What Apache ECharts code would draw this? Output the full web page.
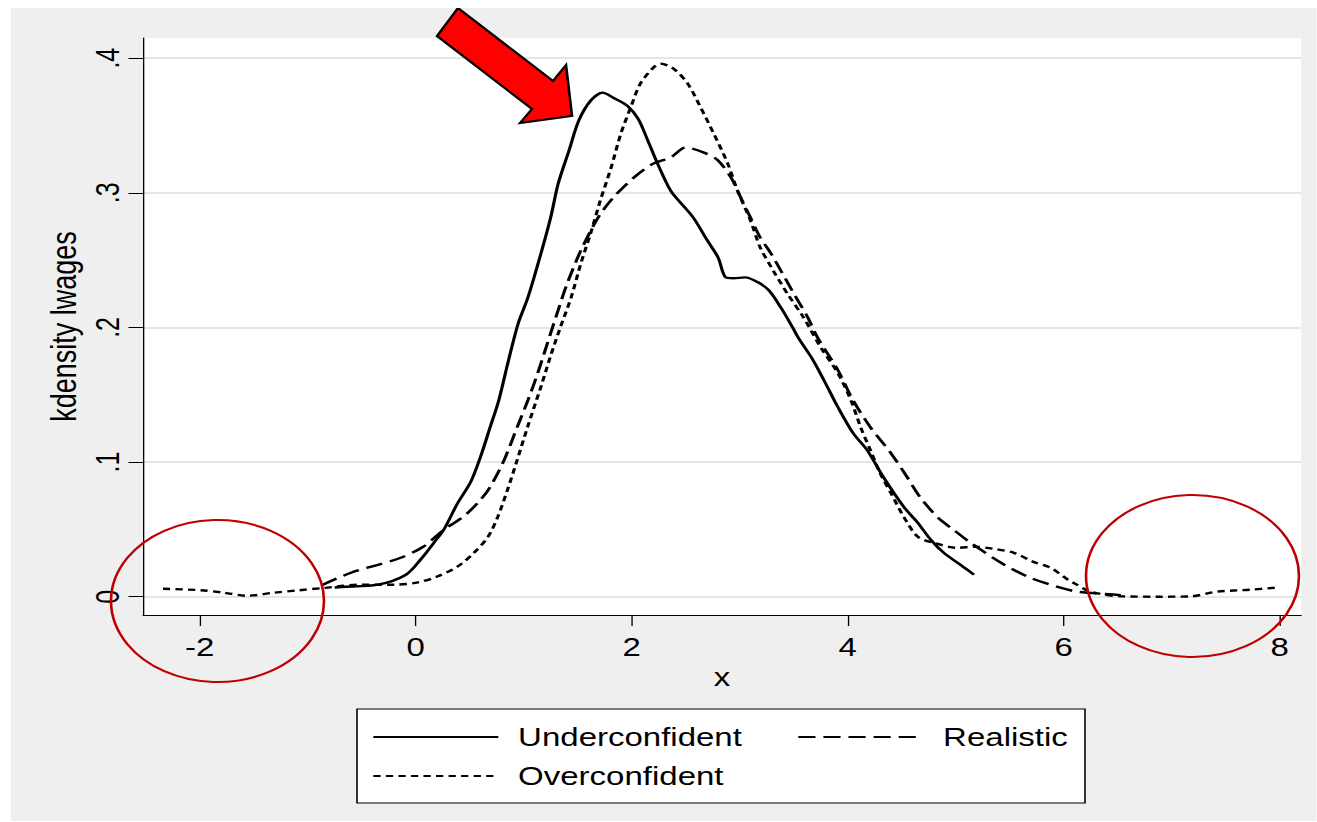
<!DOCTYPE html>
<html>
<head>
<meta charset="utf-8">
<script src="https://cdn.jsdelivr.net/npm/echarts@6/dist/echarts.min.js"></script>
<style>
  html, body { margin: 0; padding: 0; background: #ffffff; width: 1317px; height: 822px; overflow: hidden; }
  #chart { position: absolute; left: 11px; top: 8px; height: 813px; transform-origin: 0 0; background: #efefef; }
</style>
</head>
<body>
<div id="chart"></div>
<script>
// Kernel density estimates of log wages by self-assessment group
const underX = [-0.75, -0.69, -0.35, -0.09, 0.05, 0.19, 0.26, 0.39, 0.51, 0.60, 0.69, 0.77, 0.86, 0.95, 1.04, 1.16, 1.25, 1.32, 1.42, 1.51, 1.62, 1.73, 1.83, 1.96, 2.06, 2.15, 2.24, 2.36, 2.45, 2.57, 2.70, 2.80, 2.87, 2.94, 3.05, 3.17, 3.27, 3.38, 3.49, 3.54, 3.68, 3.78, 3.91, 4.05, 4.18, 4.33, 4.52, 4.65, 4.77, 4.89, 5.07, 5.17];
const underY = [0.0068, 0.0072, 0.0089, 0.0163, 0.028, 0.0423, 0.0497, 0.0697, 0.0853, 0.1038, 0.126, 0.146, 0.1757, 0.2031, 0.2224, 0.255, 0.2817, 0.3069, 0.3314, 0.3536, 0.3684, 0.3744, 0.3706, 0.3647, 0.355, 0.3388, 0.3217, 0.3017, 0.2929, 0.2817, 0.2647, 0.252, 0.2372, 0.2365, 0.2372, 0.2335, 0.2276, 0.215, 0.2001, 0.1927, 0.1757, 0.1609, 0.1408, 0.1216, 0.109, 0.089, 0.0667, 0.0549, 0.0423, 0.0326, 0.0222, 0.0163];

const realX = [-0.87, -0.60, -0.35, -0.14, 0.07, 0.26, 0.44, 0.60, 0.69, 0.82, 0.94, 1.04, 1.13, 1.22, 1.31, 1.40, 1.53, 1.69, 1.83, 2.02, 2.20, 2.36, 2.50, 2.67, 2.80, 2.92, 3.01, 3.10, 3.19, 3.29, 3.38, 3.50, 3.63, 3.72, 3.91, 4.05, 4.21, 4.40, 4.55, 4.67, 4.83, 4.98, 5.14, 5.42, 5.69, 5.97, 6.13, 6.53];
const realY = [0.0085, 0.0178, 0.0237, 0.0289, 0.0371, 0.0497, 0.0593, 0.0719, 0.0815, 0.1016, 0.126, 0.146, 0.166, 0.1883, 0.2105, 0.232, 0.2572, 0.2817, 0.2965, 0.3113, 0.3217, 0.3262, 0.3336, 0.3299, 0.324, 0.3113, 0.2965, 0.2817, 0.2669, 0.255, 0.2424, 0.2254, 0.2076, 0.1927, 0.1683, 0.146, 0.126, 0.1067, 0.089, 0.0741, 0.0593, 0.0497, 0.04, 0.0252, 0.0141, 0.0067, 0.0037, 0.0012];

const overX = [-2.34, -1.99, -1.78, -1.56, -1.31, -1.09, -0.86, -0.51, -0.20, 0.02, 0.20, 0.39, 0.54, 0.67, 0.76, 0.85, 0.93, 1.04, 1.16, 1.25, 1.34, 1.44, 1.53, 1.62, 1.71, 1.81, 1.90, 1.99, 2.08, 2.20, 2.27, 2.39, 2.52, 2.64, 2.76, 2.89, 2.98, 3.10, 3.19, 3.31, 3.44, 3.59, 3.75, 3.91, 4.03, 4.12, 4.21, 4.30, 4.40, 4.52, 4.65, 4.80, 5.02, 5.17, 5.35, 5.54, 5.72, 5.88, 6.04, 6.09, 6.25, 6.55, 6.87, 7.17, 7.42, 7.73, 7.96];
const overY = [0.0059, 0.0048, 0.003, 0.0007, 0.003, 0.0047, 0.0064, 0.0089, 0.0089, 0.0106, 0.015, 0.0225, 0.0326, 0.0445, 0.0593, 0.0793, 0.099, 0.127, 0.156, 0.179, 0.2001, 0.2224, 0.2476, 0.2698, 0.2943, 0.3188, 0.344, 0.3632, 0.381, 0.3929, 0.3959, 0.3921, 0.381, 0.3632, 0.344, 0.3217, 0.3017, 0.2795, 0.2595, 0.2424, 0.2254, 0.2076, 0.1853, 0.166, 0.146, 0.126, 0.109, 0.0919, 0.0771, 0.0593, 0.0445, 0.04, 0.0363, 0.0371, 0.0356, 0.0326, 0.0259, 0.0215, 0.0126, 0.0104, 0.0037, 0.0002, 0.0, 0.0002, 0.0037, 0.0052, 0.0067];

const seriesNames = ['Underconfident', 'Realistic', 'Overconfident'];
const xTickValues = [-2, 0, 2, 4, 6, 8];
const yTickValues = [0, 0.1, 0.2, 0.3, 0.4];
const yTickLabels = ['0', '.1', '.2', '.3', '.4'];
const xTitle = 'x';
const yTitle = 'kdensity lwages';

// The figure is laid out on a narrower canvas and widened horizontally.
const SX = 1.32;
const el = document.getElementById('chart');
el.style.width = (1305 / SX) + 'px';
el.style.transform = 'scaleX(' + SX + ')';

// page pixel -> canvas coordinate
const px = x => (x - 11) / SX;
const py = y => y - 8;

const zip = (xs, ys) => xs.map((x, i) => [x, ys[i]]);
const FONT = '"Liberation Sans", Arial, sans-serif';

const chart = echarts.init(el, null, { renderer: 'svg' });

const lineSeries = (name, xs, ys, dash) => ({
  name,
  type: 'line',
  data: zip(xs, ys),
  showSymbol: false,
  symbol: 'none',
  smooth: 0.3,
  lineStyle: { color: '#000', width: 2.4, type: dash },
  itemStyle: { color: '#000' },
  z: 3
});

const legendCommon = {
  orient: 'vertical',
  top: py(737) - 15,
  padding: 0,
  itemWidth: 125 / SX,
  itemHeight: 30,
  itemGap: 9,
  selectedMode: false,
  z: 10,
  // line-only keys: hide the marker drawn in the middle of the key
  itemStyle: { opacity: 0, color: 'rgba(0,0,0,0)', borderWidth: 0 },
  textStyle: { fontSize: 25, lineHeight: 30, color: '#000', fontFamily: FONT, padding: [0, 0, 0, 10] }
};

chart.setOption({
  animation: false,
  grid: {
    left: px(143), right: 1305 / SX - px(1300.7), top: py(38), bottom: 821 - 615,
    show: true, backgroundColor: '#ffffff', borderWidth: 0
  },
  xAxis: {
    type: 'value', min: -2.525, max: 8.2,
    name: xTitle, nameLocation: 'middle', nameGap: 47,
    nameTextStyle: { fontSize: 25, color: '#000', fontFamily: FONT },
    axisLine: { show: true, onZero: false, lineStyle: { color: '#000', width: 1 } },
    axisTick: { show: true, length: 11, customValues: xTickValues, lineStyle: { color: '#000', width: 1 } },
    axisLabel: { customValues: xTickValues, fontSize: 25, color: '#000', fontFamily: FONT, margin: 20, formatter: v => String(v) },
    splitLine: { show: false }
  },
  yAxis: {
    type: 'value', min: -0.0136, max: 0.415,
    name: yTitle, nameLocation: 'middle', nameGap: 33, nameRotate: 90,
    nameTextStyle: { fontSize: 27, color: '#000', fontFamily: FONT },
    axisLine: { show: true, onZero: false, lineStyle: { color: '#000', width: 1 } },
    axisTick: { show: true, length: 11, customValues: yTickValues, lineStyle: { color: '#000', width: 1 } },
    axisLabel: {
      customValues: yTickValues, rotate: 90, fontSize: 25, color: '#000', fontFamily: FONT, margin: 14,
      formatter: v => {
        const i = yTickValues.findIndex(t => Math.abs(t - v) < 1e-9);
        return i >= 0 ? yTickLabels[i] : '';
      }
    },
    splitLine: { show: true, lineStyle: { color: '#e6e6e6', width: 2 } }
  },
  legend: [
    Object.assign({}, legendCommon, { left: px(372), data: [seriesNames[0], seriesNames[2]] }),
    Object.assign({}, legendCommon, { left: px(797), data: [seriesNames[1]] })
  ],
  series: [
    lineSeries(seriesNames[0], underX, underY, 'solid'),
    lineSeries(seriesNames[1], realX, realY, [13, 6]),
    lineSeries(seriesNames[2], overX, overY, [5.5, 4])
  ],
  graphic: [
    {
      type: 'rect', z: 1,
      shape: { x: px(357), y: py(709), width: (1085 - 357) / SX, height: 94 },
      style: { fill: '#ffffff', stroke: '#000', lineWidth: 1.2 }
    },
    {
      type: 'circle', z: 50, x: px(217.5), y: py(601), scaleX: (106.5 / SX) / 81,
      shape: { cx: 0, cy: 0, r: 81 },
      style: { fill: 'none', stroke: '#c00000', lineWidth: 2 }
    },
    {
      type: 'circle', z: 50, x: px(1192.5), y: py(576), scaleX: (106.5 / SX) / 81,
      shape: { cx: 0, cy: 0, r: 81 },
      style: { fill: 'none', stroke: '#c00000', lineWidth: 2 }
    },
    {
      type: 'polygon', z: 60,
      shape: {
        points: [
          [px(458), py(8)], [px(553), py(81)], [px(566), py(65)], [px(572), py(116)],
          [px(520), py(123)], [px(532), py(109)], [px(437), py(36)]
        ]
      },
      style: { fill: '#ff0000', stroke: '#000', lineWidth: 2, lineJoin: 'miter' }
    }
  ]
});
</script>
</body>
</html>
